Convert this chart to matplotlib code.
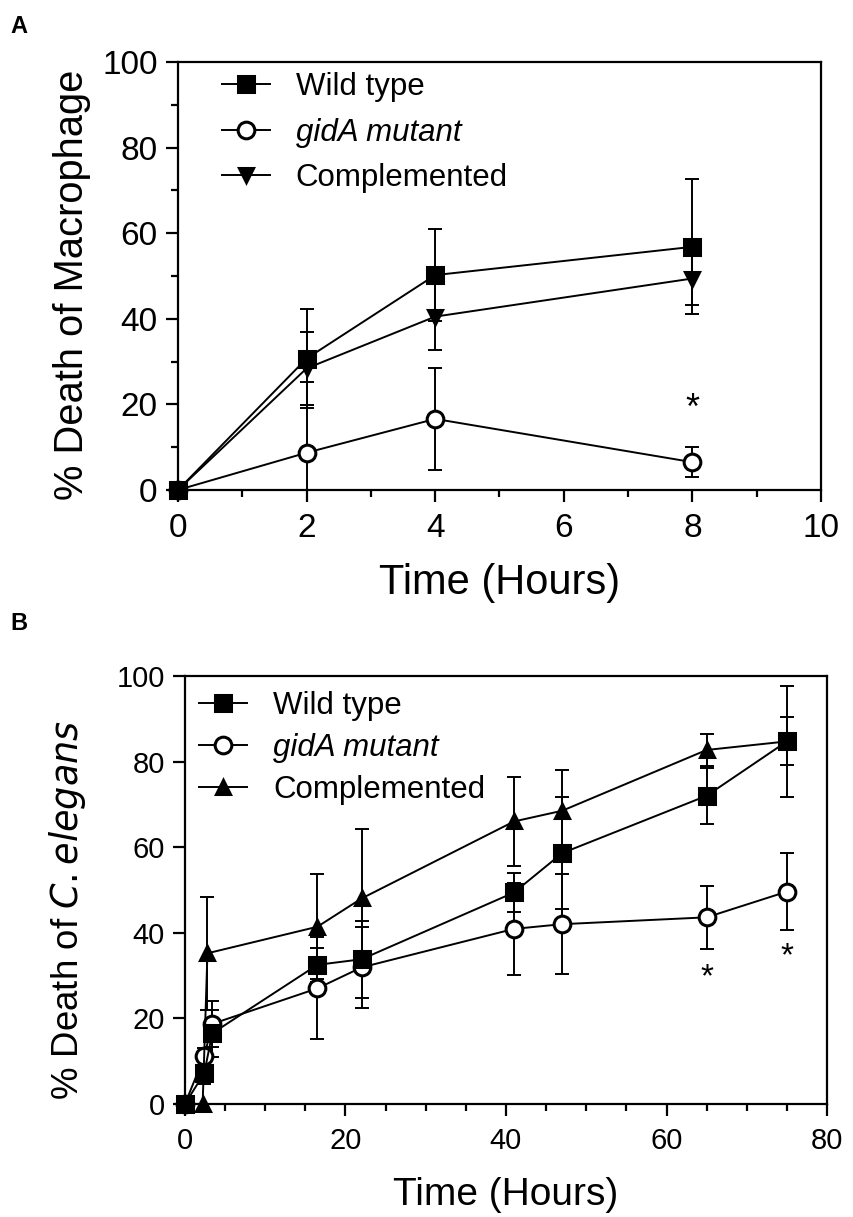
import numpy as np
import matplotlib
matplotlib.use('Agg')
import matplotlib.pyplot as plt
from matplotlib.ticker import MultipleLocator

plt.rcParams['font.family'] = ['Liberation Sans', 'DejaVu Sans']

# panel A - macrophage
time_a = [0, 2, 4, 8]
wt_a = [0, 30.7, 50.2, 56.8]
wt_a_err = [0, 11.6, 10.7, 15.8]
gida_a = [0, 8.7, 16.6, 6.5]
gida_a_err = [0, 16.6, 11.9, 3.5]
comp_a = [0, 28.4, 40.5, 49.4]
comp_a_err = [0, 8.6, 7.8, 6.2]

# panel B - C. elegans
time_b = [0, 2.4, 3.4, 16.5, 22, 41, 47, 65, 75]
time_b_comp = [0, 2.2, 2.8, 16.5, 22, 41, 47, 65, 75]
wt_b = [0, 7.2, 16.5, 32.5, 33.8, 49.4, 58.6, 72.0, 84.7]
wt_b_err = [0, 2.5, 5.5, 3.9, 9.0, 4.6, 13.0, 6.6, 13.0]
gida_b = [0, 11.1, 18.7, 27.0, 31.9, 40.9, 42.0, 43.6, 49.6]
gida_b_err = [0, 2.0, 5.4, 11.9, 9.5, 10.8, 11.7, 7.3, 9.0]
comp_b = [0, 0, 35.2, 41.4, 48.0, 66.0, 68.5, 82.7, 84.7]
comp_b_err = [0, 0, 13.2, 12.3, 16.3, 10.3, 9.5, 3.7, 5.6]

labels = ['Wild type', 'gidA mutant', 'Complemented']

# significance marks (x, y)
star_a = [(8, 18.7)]
star_b = [(65, 29.4), (75, 34.4)]

lw = 1.4


def draw_series(ax, t, y, err, marker, ms, face, z=3):
    ax.errorbar(t, y, yerr=err, fmt='none', ecolor='k', elinewidth=lw,
                capsize=5, capthick=lw, zorder=2)
    h, = ax.plot(t, y, color='k', lw=lw, marker=marker, ms=ms,
                 mfc=face, mec='k', mew=2.2, clip_on=False, zorder=z)
    return h


def style_axes(ax, fs_tick):
    for s in ax.spines.values():
        s.set_linewidth(1.6)
    ax.tick_params(which='major', direction='out', length=8.6, width=1.6,
                   labelsize=fs_tick, top=False, right=False)
    ax.tick_params(which='minor', direction='out', length=5, width=1.6,
                   top=False, right=False)
    ax.tick_params(axis='x', which='major', pad=8)
    ax.tick_params(axis='y', which='major', pad=6)


fig = plt.figure(figsize=(8.54, 12.17), dpi=100)

# ---------------- A
ax1 = fig.add_axes([0.2084, 0.5974, 0.7529, 0.3517])
h1 = draw_series(ax1, time_a, wt_a, wt_a_err, 's', 11, 'k')
h2 = draw_series(ax1, time_a, gida_a, gida_a_err, 'o', 12, 'w', z=2.9)
h3 = draw_series(ax1, time_a, comp_a, comp_a_err, 'v', 10, 'k')
ax1.set_xlim(0, 10)
ax1.set_ylim(0, 100)
ax1.xaxis.set_major_locator(MultipleLocator(2))
ax1.xaxis.set_minor_locator(MultipleLocator(1))
ax1.yaxis.set_major_locator(MultipleLocator(20))
ax1.yaxis.set_minor_locator(MultipleLocator(10))
style_axes(ax1, 24)
ax1.set_xlabel('Time (Hours)', fontsize=30)
ax1.set_ylabel('% Death of Macrophage', fontsize=28.7)
ax1.xaxis.set_label_coords(0.5, -0.17)
ax1.yaxis.set_label_coords(-0.135, 0.48)
for sx, sy in star_a:
    ax1.text(sx, sy, '*', fontsize=26, ha='center', va='center')
leg1 = ax1.legend([h1, h2, h3], labels, loc='upper left',
                  bbox_to_anchor=(0.024, 1.042), frameon=False, fontsize=22.5,
                  handlelength=1.54, handletextpad=0.83, labelspacing=0.5)
leg1.get_texts()[1].set_style('italic')

# ---------------- B
ax2 = fig.add_axes([0.2166, 0.0929, 0.7518, 0.3517])
g1 = draw_series(ax2, time_b, wt_b, wt_b_err, 's', 11, 'k')
g2 = draw_series(ax2, time_b, gida_b, gida_b_err, 'o', 12, 'w', z=2.9)
g3 = draw_series(ax2, time_b_comp, comp_b, comp_b_err, '^', 10, 'k')
ax2.set_xlim(0, 80)
ax2.set_ylim(0, 100)
ax2.xaxis.set_major_locator(MultipleLocator(20))
ax2.xaxis.set_minor_locator(MultipleLocator(5))
ax2.yaxis.set_major_locator(MultipleLocator(20))
style_axes(ax2, 21)
ax2.set_xlabel('Time (Hours)', fontsize=28)
ax2.set_ylabel('% Death of $\\it{C. elegans}$', fontsize=26.4)
ax2.xaxis.set_label_coords(0.5, -0.17)
ax2.yaxis.set_label_coords(-0.151, 0.453)
for sx, sy in star_b:
    ax2.text(sx, sy, '*', fontsize=24, ha='center', va='center')
leg2 = ax2.legend([g1, g2, g3], labels, loc='upper left',
                  bbox_to_anchor=(-0.022, 1.03), frameon=False, fontsize=22.5,
                  handlelength=1.54, handletextpad=0.83, labelspacing=0.38)
leg2.get_texts()[1].set_style('italic')

fig.text(0.0117, 0.988, 'A', fontsize=17, fontweight='bold', va='top')
fig.text(0.0117, 0.497, 'B', fontsize=17, fontweight='bold', va='top')

fig.savefig('out.png', dpi=100)
plt.close(fig)
